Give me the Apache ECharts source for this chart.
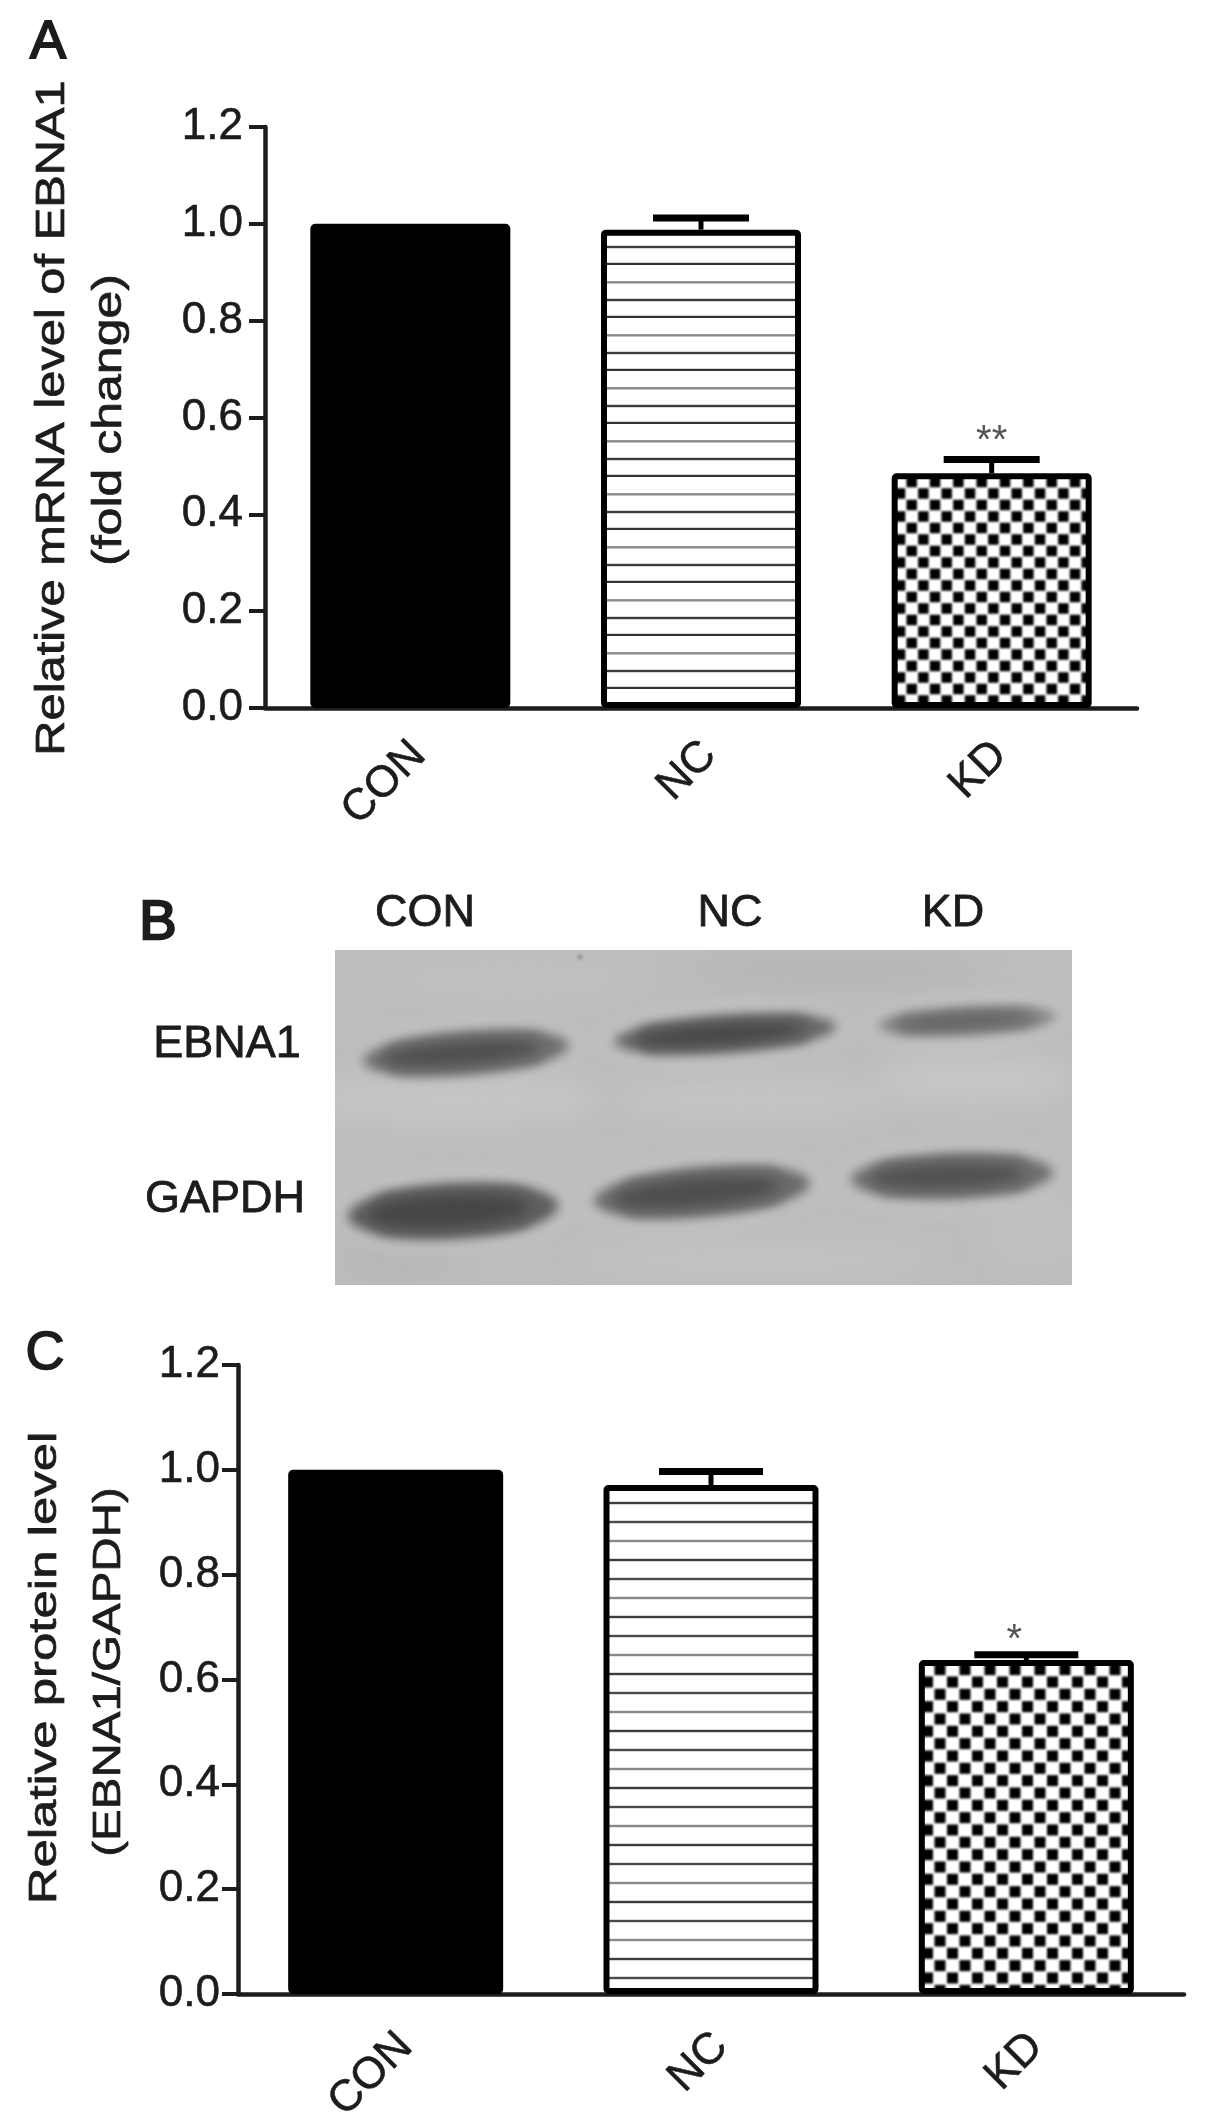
<!DOCTYPE html>
<html><head><meta charset="utf-8">
<style>html,body{margin:0;padding:0;background:#fff}#c{width:1205px;height:2128px;filter:blur(0.55px)}</style>
<script src="https://cdn.jsdelivr.net/npm/echarts@6/dist/echarts.min.js"></script>
</head><body><div id="c"></div>
<script>
const categories = ['CON', 'NC', 'KD'];
const tickFormat = 1;
const meanA = [1.0, 0.988, 0.485];
const capA = [null, 1.012, 0.513];
const starsA = ['', '', '**'];
const meanC = [1.0, 0.971, 0.637];
const capC = [null, 0.997, 0.647];
const starsC = ['', '', '*'];
const blotLanes = ['CON', 'NC', 'KD'];
const blotRows = ['EBNA1', 'GAPDH'];
const FONT = '"Liberation Sans", Arial, sans-serif';
const INK = '#1c1c1c';

function hatch(h, lines, colors) {
  const c = document.createElement('canvas'); c.width = 8; c.height = h;
  const x = c.getContext('2d'); x.fillStyle = '#fff'; x.fillRect(0, 0, 8, h);
  lines.forEach((y, i) => { x.fillStyle = colors[i]; x.fillRect(0, y - 1.2, 8, 2.4); });
  return c;
}
function checker(w, h, px, py, ox, oy, side) {
  const c = document.createElement('canvas'); c.width = w; c.height = h;
  const x = c.getContext('2d'); x.fillStyle = '#fff'; x.fillRect(0, 0, w, h);
  x.filter = 'blur(0.8px)'; x.fillStyle = '#000';
  for (let j = -2; j < h / py + 2; j++) for (let i = -2; i < w / px + 2; i++) {
    x.fillRect(ox + i * px - side / 2, oy + j * py - side / 2, side, side);
    x.fillRect(ox + (i + .5) * px - side / 2, oy + (j + .5) * py - side / 2, side, side);
  }
  return c;
}
const hatchA = hatch(53, [17.3, 35, 52], ['#8a8a8a', '#3c3c3c', '#333']);
const hatchC = hatch(57, [2, 21, 40], ['#888', '#3c3c3c', '#4a4a4a']);
const checkA = checker(70, 69, 70 / 3, 23, 1.7, 22, 10.5);
const checkC = checker(75, 74, 25, 74 / 3, 15, 17, 11);

function blot() {
  const W = 737, H = 335, c = document.createElement('canvas'); c.width = W; c.height = H;
  const x = c.getContext('2d');
  x.fillStyle = '#bdbdbd'; x.fillRect(0, 0, W, H);
  const wash = (a, b, rx, ry, col) => { x.fillStyle = col; x.beginPath(); x.ellipse(a, b, rx, ry, 0, 0, 7); x.fill(); };
  x.filter = 'blur(14px)';
  wash(120, 150, 150, 24, '#c6c6c6'); wash(420, 150, 140, 22, '#c4c4c4'); wash(640, 130, 100, 26, '#c6c6c6');
  wash(180, 30, 120, 20, '#c0c0c0'); wash(500, 20, 150, 18, '#b6b6b6'); wash(420, 310, 180, 20, '#c2c2c2');
  wash(60, 310, 60, 30, '#b8b8b8'); wash(700, 280, 50, 40, '#c0c0c0');
  const band = (cx, cy, rx, ry, deg, outer, core) => {
    x.save(); x.translate(cx, cy); x.rotate(deg * Math.PI / 180);
    x.filter = 'blur(9px)'; x.fillStyle = '#c8c8c8';
    x.beginPath(); x.ellipse(0, 0, rx + 12, ry + 11, 0, 0, 7); x.fill();
    x.filter = 'blur(6px)'; x.fillStyle = outer;
    x.beginPath(); x.ellipse(0, 0, rx + 4, ry + 3, 0, 0, 7); x.fill();
    x.beginPath(); x.roundRect(-rx * 0.8, -ry * 0.8, rx * 1.6, ry * 1.6, ry * 0.8); x.fill();
    x.filter = 'blur(6px)'; x.fillStyle = core;
    x.beginPath(); x.ellipse(-rx * 0.05, 0, rx * 0.78, ry * 0.62, 0, 0, 7); x.fill();
    x.restore();
  };
  band(131, 103, 100, 19, -4.5, '#6e6e6e', '#505050');
  band(390, 84, 108, 16, -4, '#666', '#484848');
  band(632, 71, 86, 11, -3, '#808080', '#626262');
  band(118, 261, 102, 25, -3, '#5e5e5e', '#464646');
  band(367, 242, 105, 22, -5, '#6a6a6a', '#4e4e4e');
  band(617, 226, 98, 20, -2, '#6e6e6e', '#525252');
  x.filter = 'blur(1.5px)'; x.fillStyle = '#8f8f8f';
  x.beginPath(); x.arc(245, 7, 2.5, 0, 7); x.fill();
  return c;
}

function hText(text, x, y, size, heavy) {
  return { type: 'text', x, y, z: 10, style: { text, x: 0, y: 0, align: 'center', verticalAlign: 'middle',
    font: size + 'px ' + FONT, fill: INK, stroke: INK, lineWidth: heavy } };
}
function vText(text, x, y, size, stretch) {
  return { type: 'text', x, y, rotation: Math.PI / 2, scaleX: stretch, z: 10, style: { text, x: 0, y: 0,
    align: 'center', verticalAlign: 'middle', font: size + 'px ' + FONT, fill: INK, stroke: INK, lineWidth: 0.7 } };
}
function xAxis(i, margin, lh) {
  return { gridIndex: i, type: 'category', data: categories,
    axisLine: { lineStyle: { color: INK, width: 4.5 } },
    axisTick: { alignWithLabel: true, length: 15, lineStyle: { color: INK, width: 4 } },
    axisLabel: { rotate: 45, fontSize: 44, fontFamily: FONT, color: INK, margin, interval: 0,
      verticalAlign: 'top', lineHeight: lh, textBorderColor: INK, textBorderWidth: 0.6 } };
}
function yAxis(i, margin) {
  return { gridIndex: i, type: 'value', min: 0, max: 1.2, interval: 0.2, splitLine: { show: false },
    axisLine: { show: true, lineStyle: { color: INK, width: 4.5 } },
    axisTick: { show: true, length: 16, lineStyle: { color: INK, width: 4 } },
    axisLabel: { fontSize: 44, fontFamily: FONT, color: INK, margin, textBorderColor: INK, textBorderWidth: 0.6,
      formatter: v => v.toFixed(tickFormat) } };
}
function bars(i, vals, fills, w) {
  return { type: 'bar', xAxisIndex: i, yAxisIndex: i, barWidth: w, z: 2,
    data: vals.map((v, k) => ({ value: v, itemStyle: { color: fills[k], borderColor: '#000', borderWidth: 6, borderRadius: 2 } })) };
}
function errs(i, vals, caps, stars, capHalf, starDx, starDy) {
  return { type: 'custom', xAxisIndex: i, yAxisIndex: i, z: 3,
    data: vals.map((v, k) => [k, v, caps[k], stars[k]]),
    encode: { x: 0, y: 2 },
    renderItem: (p, api) => {
      const k = api.value(0), children = [];
      if (caps[k] != null) {
        const a = api.coord([k, vals[k]]), b = api.coord([k, caps[k]]);
        children.push({ type: 'line', shape: { x1: a[0], y1: a[1], x2: b[0], y2: b[1] }, style: { stroke: '#000', lineWidth: 5 } });
        children.push({ type: 'line', shape: { x1: b[0] - capHalf, y1: b[1], x2: b[0] + capHalf, y2: b[1] }, style: { stroke: '#000', lineWidth: 7 } });
        if (stars[k]) children.push({ type: 'text', style: { text: stars[k], x: b[0] + starDx, y: b[1] + starDy, align: 'center', verticalAlign: 'middle', font: '40px ' + FONT, fill: '#555' } });
      }
      return { type: 'group', children };
    } };
}

const chart = echarts.init(document.getElementById('c'), null, { renderer: 'canvas', width: 1205, height: 2128 });
chart.setOption({
  animation: false, backgroundColor: '#fff',
  grid: [
    { left: 265, right: 68, top: 127, height: 581 },
    { left: 238, right: 21, top: 1365, height: 629 }
  ],
  xAxis: [xAxis(0, 32, 24), xAxis(1, 36, 28)], yAxis: [yAxis(0, 22), yAxis(1, 18)],
  series: [
    bars(0, meanA, ['#000', { image: hatchA, repeat: 'repeat' }, { image: checkA, repeat: 'repeat' }], 200),
    errs(0, meanA, capA, starsA, 48, 0, -18),
    bars(1, meanC, ['#000', { image: hatchC, repeat: 'repeat' }, { image: checkC, repeat: 'repeat' }], 215),
    errs(1, meanC, capC, starsC, 52, -12, -14)
  ],
  graphic: [
    { type: 'image', x: 335, y: 950, z: 1, style: { image: blot(), x: 0, y: 0, width: 737, height: 335 } },
    hText('A', 48, 43, 54, 2),
    hText('B', 158, 924, 56, 2.4),
    hText('C', 45, 1354, 54, 1.6),
    hText(blotLanes[0], 425, 914, 45, 0.8),
    hText(blotLanes[1], 730, 914, 45, 0.8),
    hText(blotLanes[2], 953, 914, 45, 0.8),
    hText(blotRows[0], 227, 1045, 45, 0.8),
    hText(blotRows[1], 225, 1200, 45, 0.8),
    vText('Relative mRNA level of EBNA1', 53, 418, 40, 1.22),
    vText('(fold change)', 110, 420, 40, 1.25),
    vText('Relative protein level', 46, 1668, 38, 1.34),
    vText('(EBNA1/GAPDH)', 110, 1672, 38, 1.25)
  ]
});
</script></body></html>
